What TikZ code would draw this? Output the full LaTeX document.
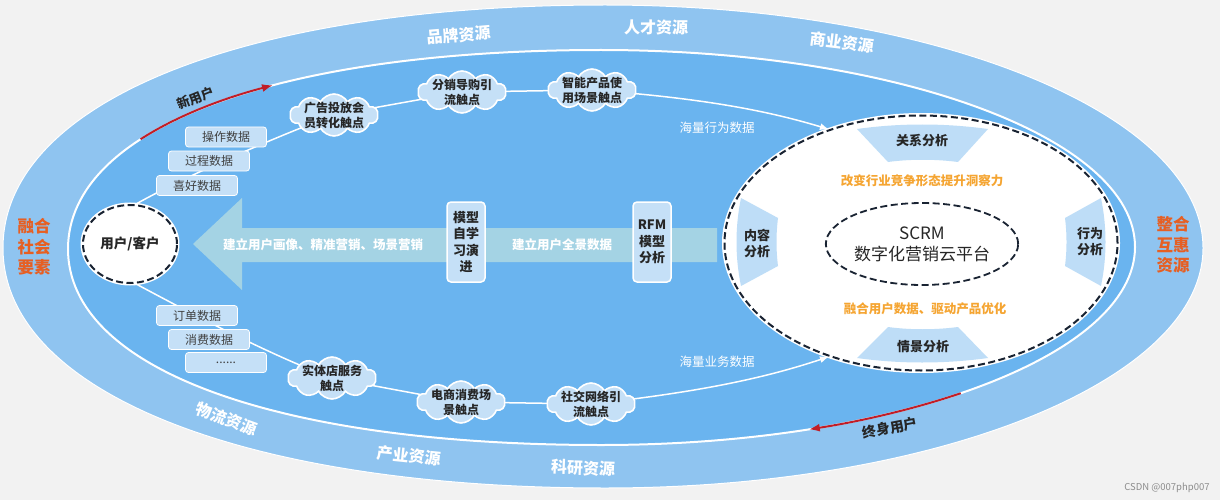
\documentclass[tikz,border=0pt]{standalone}
\usepackage{fontspec}
\setmainfont{Noto Sans CJK SC}
\usetikzlibrary{shapes.geometric,shapes.symbols,arrows.meta}
\pgfdeclarelayer{back}
\pgfdeclarelayer{mid}
\pgfsetlayers{back,mid,main}
\definecolor{bggray}{RGB}{242,242,242}
\definecolor{ringlight}{RGB}{143,196,240}
\definecolor{ringdark}{RGB}{106,180,239}
\definecolor{boxfill}{RGB}{197,224,247}
\definecolor{trapfill}{RGB}{190,221,247}
\definecolor{arrowfill}{RGB}{164,211,228}
\definecolor{darktext}{RGB}{38,38,38}
\definecolor{graytext}{RGB}{64,64,64}
\definecolor{orangetext}{RGB}{245,165,50}
\definecolor{sideorange}{RGB}{230,95,35}
\definecolor{redarrow}{RGB}{192,30,40}
\definecolor{dashline}{RGB}{25,35,50}
\newcommand{\fsz}[2]{\fontsize{#1}{#2}\selectfont}
\begin{document}
\begin{tikzpicture}[x=1pt,y=-1pt,
  databox/.style={rectangle,rounded corners=3pt,fill=boxfill,draw=white,line width=0.8pt,
    minimum width=81pt,minimum height=20pt,inner sep=0pt,font=\fsz{12}{14},text=graytext},
  cloudshape/.style={cloud,cloud puffs=10,cloud puff arc=120,aspect=2,fill=boxfill,
    draw=white,line width=1.6pt,minimum width=88pt,minimum height=42pt,inner sep=0pt},
  cloudtext/.style={align=center,font=\bfseries\fsz{12}{15},text=darktext,inner sep=0pt},
  modelbox/.style={rectangle,rounded corners=4pt,fill=boxfill,draw=white,line width=1.5pt,
    minimum width=38pt,minimum height=80pt,inner sep=0pt,align=center,
    font=\bfseries\fsz{13}{16.5},text=darktext},
  ringlabel/.style={text=white,font=\bfseries\fsz{16}{18},inner sep=0pt},
  sidelabel/.style={text=sideorange,font=\bfseries\fsz{16.5}{20.5},align=center,inner sep=0pt},
  traptext/.style={text=darktext,font=\bfseries\fsz{13}{16},align=center,inner sep=0pt},
  orangelabel/.style={text=orangetext,font=\bfseries\fsz{12.5}{15},inner sep=0pt},
  whitelabel/.style={text=white,font=\fsz{12.5}{15},inner sep=0pt},
  arrowlabel/.style={text=white,font=\bfseries\fsz{12.5}{15},inner sep=0pt},
  userlabel/.style={text=darktext,font=\bfseries\fsz{13.5}{16},inner sep=0pt},
  track/.style={draw=white,line width=1.5pt},
  trackarrow/.style={track,-{Latex[length=9pt,width=7pt]}},
  redarr/.style={draw=redarrow,line width=2pt,-{Latex[length=11pt,width=8pt]}},
  dashedellipse/.style={ellipse,draw=dashline,line width=2pt,dash pattern=on 7pt off 3.5pt,
    fill=white,preaction={draw=white,solid,line width=5pt}}
]
\useasboundingbox (0,0) rectangle (1220,500);
\begin{pgfonlayer}{back}
  \fill[bggray] (0,0) rectangle (1220,500);
  \path[fill=ringlight,draw=white,line width=1pt]
    (3,248) .. controls (3,102) and (244,5) .. (605,5)
    .. controls (935,5) and (1203,114) .. (1203,248)
    .. controls (1203,381) and (935,488) .. (605,488)
    .. controls (244,488) and (3,392) .. (3,248) -- cycle;
  \path[fill=ringdark,draw=white,line width=2pt]
    (68,249) .. controls (68,128) and (276,50) .. (601,50)
    .. controls (896,50) and (1135,138) .. (1135,247)
    .. controls (1135,356) and (896,445) .. (601,445)
    .. controls (276,445) and (68,369) .. (68,249) -- cycle;
  \fill[arrowfill] (193,244) -- (242,198) -- (242,228) -- (717,228) -- (717,262)
    -- (242,262) -- (242,290) -- cycle;
\end{pgfonlayer}

% ring labels
\node[ringlabel,rotate=5] (lbrand) at (459,35) {品牌资源};
\node[ringlabel] (ltalent) at (656,27) {人才资源};
\node[ringlabel,rotate=-7] (lbiz) at (842,42) {商业资源};
\node[ringlabel,rotate=-20] (llogi) at (227,419) {物流资源};
\node[ringlabel,rotate=-6] (lind) at (409,456) {产业资源};
\node[ringlabel,rotate=-2] (lsci) at (583,468) {科研资源};
\node[sidelabel] (lleft) at (34,247) {融合\\社会\\要素};
\node[sidelabel] (lright) at (1173,245) {整合\\互惠\\资源};

% user node
\node[dashedellipse,minimum width=94pt,minimum height=78pt,inner sep=0pt] (user) at (130,244) {};
\node[userlabel] (usert) at (user) {用户/客户};

% data boxes
\node[databox] (d1) at (226,137) {操作数据};
\node[databox] (d2) at (209,161) {过程数据};
\node[databox] (d3) at (197,185.5) {喜好数据};
\node[databox] (d4) at (197,315.5) {订单数据};
\node[databox] (d5) at (209,339.5) {消费数据};
\node[databox] (d6) at (226,362.5) {......};

% clouds
\node[cloudshape] (c1) at (334,115) {};
\node[cloudtext] (c1t) at (c1) {广告投放会\\员转化触点};
\node[cloudshape] (c2) at (462,92) {};
\node[cloudtext] (c2t) at (c2) {分销导购引\\流触点};
\node[cloudshape] (c3) at (592,90) {};
\node[cloudtext] (c3t) at (c3) {智能产品使\\用场景触点};
\node[cloudshape] (c4) at (332,378) {};
\node[cloudtext] (c4t) at (c4) {实体店服务\\触点};
\node[cloudshape] (c5) at (461,402) {};
\node[cloudtext] (c5t) at (c5) {电商消费场\\景触点};
\node[cloudshape] (c6) at (591,404) {};
\node[cloudtext] (c6t) at (c6) {社交网络引\\流触点};

% big arrow texts and model boxes
\node[arrowlabel] (a1) at (323,245) {建立用户画像、精准营销、场景营销};
\node[arrowlabel] (a2) at (562,245) {建立用户全景数据};
\node[modelbox] (m1) at (466,242) {模型\\自学\\习演\\进};
\node[modelbox] (m2) at (652,242) {RFM\\模型\\分析};

% SCRM platform
\node[dashedellipse,minimum width=393pt,minimum height=255pt,inner sep=0pt] (scrm) at (921,243) {};
\fill[trapfill] (857,129) .. controls (900,123) and (944,123) .. (988,129)
  -- (958,162) .. controls (935,159) and (910,159) .. (888,162) -- cycle;
\fill[trapfill] (888,327) .. controls (910,330) and (935,330) .. (958,327)
  -- (988,358) .. controls (944,364) and (900,364) .. (857,358) -- cycle;
\fill[trapfill] (741,198) .. controls (735,227) and (735,257) .. (741,286)
  -- (778,266) .. controls (776,250) and (776,234) .. (778,218) -- cycle;
\fill[trapfill] (1101,198) .. controls (1107,227) and (1107,257) .. (1101,286)
  -- (1065,266) .. controls (1067,250) and (1067,234) .. (1065,218) -- cycle;
\node[traptext] (t1) at (922,141) {关系分析};
\node[traptext] (t2) at (923,347) {情景分析};
\node[traptext] (t3) at (757,243) {内容\\分析};
\node[traptext] (t4) at (1090,242) {行为\\分析};
\node[orangelabel] (o1) at (922,181) {改变行业竞争形态提升洞察力};
\node[orangelabel] (o2) at (925,309) {融合用户数据、驱动产品优化};
\node[ellipse,draw=dashline,line width=1.8pt,dash pattern=on 7pt off 3.5pt,
  minimum width=190pt,minimum height=82pt,inner sep=0pt,align=center,
  font=\fsz{17}{21},text=darktext] (core) at (922,244) {SCRM\\数字化营销云平台};

% data labels on tracks
\node[whitelabel] (w1) at (717,128) {海量行为数据};
\node[whitelabel] (w2) at (717,362) {海量业务数据};

% red arrow labels
\node[userlabel,font=\bfseries\fsz{13}{15},rotate=22] (lnew) at (196,98) {新用户};
\node[userlabel,font=\bfseries\fsz{14}{16},rotate=11] (llife) at (890,428) {终身用户};

% watermark
\node[text=black!45,font=\fsz{9.5}{11},inner sep=0pt] (wm) at (1167,488) {CSDN @007php007};

\begin{pgfonlayer}{mid}
  \draw[track] (user.82) .. controls (175,182) and (255,145) .. (c1.center);
  \draw[track] (c1.center) -- (c2.center);
  \draw[track] (c2.center) -- (c3.center);
  \draw[trackarrow] (c3.center) .. controls (700,98) and (765,110) .. (scrm.129);
  \draw[track] (user.-82) .. controls (170,302) and (262,352) .. (c4.center);
  \draw[track] (c4.center) -- (c5.center);
  \draw[track] (c5.center) -- (c6.center);
  \draw[trackarrow] (c6.center) .. controls (700,392) and (765,378) .. (scrm.231);
  \coordinate (nuA) at (140.6,139.2);
  \coordinate (nuB) at (273,85.2);
  \draw[redarr] (nuA) .. controls (174.2,117.5) and (218.9,99.4) .. (nuB);
  \coordinate (luA) at (960.8,393.2);
  \coordinate (luB) at (808.8,429.4);
  \draw[redarr] (luA) .. controls (916.4,408.2) and (865,420.6) .. (luB);
\end{pgfonlayer}
\end{tikzpicture}
\end{document}
